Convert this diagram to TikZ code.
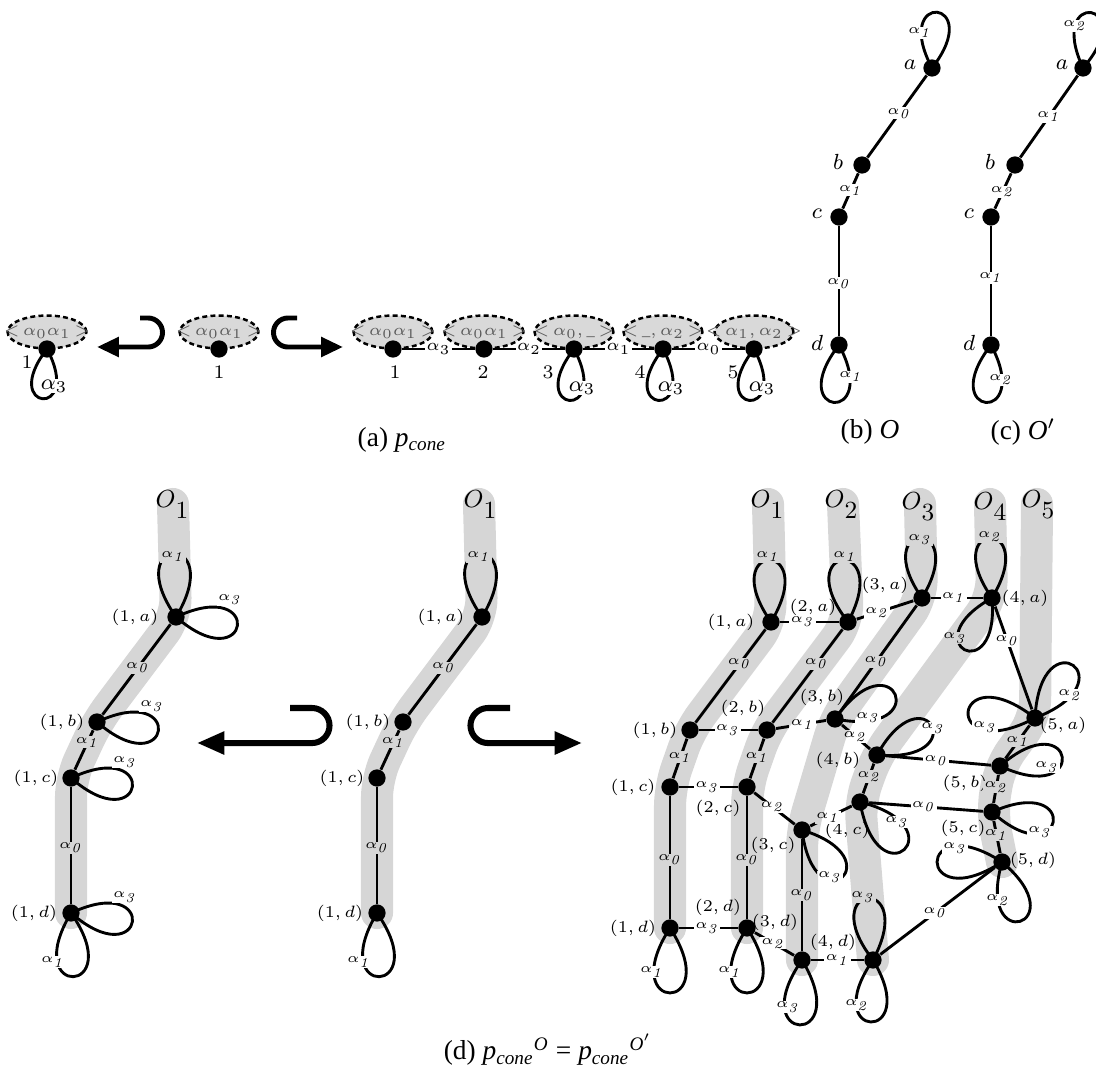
\documentclass[tikz,border=0pt]{standalone}
\usepackage[no-math]{fontspec}
\setmainfont{Liberation Serif}
\usetikzlibrary{arrows.meta,shapes.geometric}
\newcommand\myedge[5][lab]{\draw[eln] (#2) -- (#3) node[#1,pos=#4]{#5};}
\newcommand\myloop[3]{\draw[eln] (#1.center) .. controls +(#2+33:#3pt) and +(#2-33:#3pt) .. (#1.center);}
\newcommand\ai[1]{$\alpha_{\mathit{#1}}$}
\newcommand\ol[1]{$O$\raisebox{-4pt}{$#1$}}
\newcommand\orb[1]{$\mathord{<}\,#1\,\mathord{>}$}
\begin{document}
\begin{tikzpicture}[x=0.365pt,y=-0.365pt,
  eln/.style={line width=1.05pt},
  dot/.style={circle,fill=black,inner sep=0pt,minimum size=6.3pt},
  lab/.style={fill=white,inner sep=0.4pt,font=\fontsize{5}{6}\selectfont},
  alab/.style={fill=white,inner sep=0.4pt,font=\fontsize{6}{7}\selectfont},
  blab/.style={fill=white,inner sep=0.4pt,font=\fontsize{8}{9}\selectfont},
  vlab/.style={inner sep=0pt,font=\fontsize{6}{7}\selectfont},
  num/.style={inner sep=0pt,font=\fontsize{7.5}{9}\selectfont},
  letr/.style={inner sep=0pt,font=\fontsize{8.5}{10}\selectfont},
  olab/.style={inner sep=0pt,font=\fontsize{9.5}{11}\selectfont},
  band/.style={line width=11.7pt,draw=black!16,line cap=round,line join=round,rounded corners=7pt},
  ellb/.style={draw,fill=black!15,line width=0.9pt,dash pattern=on 1.8pt off 1.2pt},
  etxt/.style={inner sep=0pt,text=black!65,font=\fontsize{6}{7}\selectfont},
  hk/.style={line width=1.8pt,-{Triangle[length=8pt,width=7pt]}},
  hkb/.style={line width=2.2pt,-{Triangle[length=10pt,width=8pt]}},
  captxt/.style={inner sep=0pt,font=\fontsize{10}{12}\selectfont}]
\useasboundingbox (0,0) rectangle (1096,1075);

% ================= (a) =================
\draw[ellb] (47,332) ellipse [x radius=14.4pt,y radius=6pt];
\node[etxt] (E0) at (47,332) {\orb{\alpha_0\alpha_1}};
\node[dot] (A0) at (47,349) {};
\node[num] (nA0) at (27,362) {$1$};
\myloop{A0}{-95}{29}
\node[blab] (lA0) at (54,386) {$\alpha_3$};

\draw[ellb] (219,332) ellipse [x radius=14.4pt,y radius=6pt];
\node[etxt] (Em) at (219,332) {\orb{\alpha_0\alpha_1}};
\node[dot] (Am) at (219,349) {};
\node[num] (nAm) at (219,372) {$1$};

\coordinate (h1s) at (140,318); \coordinate (h1e) at (97,347);
\draw[hk] (h1s) -- (148,318) arc[start angle=90,end angle=-90,radius=5.3pt] -- (h1e);
\coordinate (h2s) at (297,318); \coordinate (h2e) at (343,347);
\draw[hk] (h2s) -- (288,318) arc[start angle=90,end angle=270,radius=5.3pt] -- (h2e);

\draw[ellb] (393,332) ellipse [x radius=14.4pt,y radius=6pt];
\node[etxt] (E1) at (393,332) {\orb{\alpha_0\alpha_1}};
\draw[ellb] (484,332) ellipse [x radius=14.4pt,y radius=6pt];
\node[etxt] (E2) at (484,332) {\orb{\alpha_0\alpha_1}};
\draw[ellb] (574,332) ellipse [x radius=14.4pt,y radius=6pt];
\node[etxt] (E3) at (574,332) {\orb{\alpha_0,\_}};
\draw[ellb] (663,332) ellipse [x radius=14.4pt,y radius=6pt];
\node[etxt] (E4) at (663,332) {\orb{\_,\alpha_2}};
\draw[ellb] (754,332) ellipse [x radius=14.4pt,y radius=6pt];
\node[etxt] (E5) at (754,332) {\orb{\alpha_1,\alpha_2}};

\node[dot] (A1) at (393,349) {};
\node[dot] (A2) at (484,349) {};
\node[dot] (A3) at (574,349) {};
\node[dot] (A4) at (663,349) {};
\node[dot] (A5) at (754,349) {};
\node[num] (nA1) at (395,372) {$1$};
\node[num] (nA2) at (483,372) {$2$};
\node[num] (nA3) at (548,372) {$3$};
\node[num] (nA4) at (640,372) {$4$};
\node[num] (nA5) at (733,372) {$5$};
\myedge[alab]{A1}{A2}{.5}{$\alpha_3$}
\myedge[alab]{A2}{A3}{.5}{$\alpha_2$}
\myedge[alab]{A3}{A4}{.5}{$\alpha_1$}
\myedge[alab]{A4}{A5}{.5}{$\alpha_0$}
\myloop{A3}{-95}{30}
\node[blab] (lA3) at (582,388) {$\alpha_3$};
\myloop{A4}{-95}{30}
\node[blab] (lA4) at (671,388) {$\alpha_3$};
\myloop{A5}{-95}{30}
\node[blab] (lA5) at (762,388) {$\alpha_3$};

\node[captxt] (capa) at (402,440) {(a) \textit{p}\textsubscript{\textit{cone}}};

% ================= (b) =================
\node[dot] (Ba) at (932,68) {};
\node[dot] (Bb) at (862,165) {};
\node[dot] (Bc) at (839,217) {};
\node[dot] (Bd) at (839,345) {};
\node[letr] (tBa) at (910,65) {$a$};
\node[letr] (tBb) at (838,162) {$b$};
\node[letr] (tBc) at (817,214) {$c$};
\node[letr] (tBd) at (817,343) {$d$};
\myedge{Ba}{Bb}{.46}{\ai{0}}
\myedge{Bb}{Bc}{.48}{\ai{1}}
\myedge{Bc}{Bd}{.52}{\ai{0}}
\myloop{Ba}{85}{32.5}
\node[lab] (lBa) at (920,33) {\ai{1}};
\myloop{Bd}{-95}{33.5}
\node[lab] (lBd) at (851,377) {\ai{1}};
\node[captxt] (capb) at (870,432) {(b) \textit{O}};

% ================= (c) =================
\node[dot] (Ca) at (1083,68) {};
\node[dot] (Cb) at (1015,165) {};
\node[dot] (Cc) at (991,217) {};
\node[dot] (Cd) at (991,345) {};
\node[letr] (tCa) at (1062,65) {$a$};
\node[letr] (tCb) at (990,162) {$b$};
\node[letr] (tCc) at (969,214) {$c$};
\node[letr] (tCd) at (969,343) {$d$};
\myedge{Ca}{Cb}{.5}{\ai{1}}
\myedge{Cb}{Cc}{.52}{\ai{2}}
\myedge{Cc}{Cd}{.47}{\ai{1}}
\myloop{Ca}{82}{32.5}
\node[lab] (lCa) at (1075,26) {\ai{2}};
\myloop{Cd}{-95}{33.5}
\node[lab] (lCd) at (1001,380) {\ai{2}};
\node[captxt] (capc) at (1023,432) {(c) \textit{O}$'$};

% ================= (d) left =================
\node[dot] (L1a) at (176,617) {};
\node[dot] (L1b) at (97,722) {};
\node[dot] (L1c) at (71,778) {};
\node[dot] (L1d) at (71,913) {};
\node[vlab] (tL1a) at (135,617) {$(1,a)$};
\node[vlab] (tL1b) at (62,722) {$(1,b)$};
\node[vlab] (tL1c) at (36,778) {$(1,c)$};
\node[vlab] (tL1d) at (34,913) {$(1,d)$};
\myedge{L1a}{L1b}{.48}{\ai{0}}
\myedge{L1b}{L1c}{.3}{\ai{1}}
\myedge{L1c}{L1d}{.52}{\ai{0}}
\myloop{L1a}{92}{37}
\node[lab] (lL1a) at (173,557) {\ai{1}};
\myloop{L1a}{-8}{36}
\node[lab] (lL1a3) at (230,600) {\ai{3}};
\myloop{L1b}{-8}{36}
\node[lab] (lL1b3) at (152,706) {\ai{3}};
\myloop{L1c}{-8}{36}
\node[lab] (lL1c3) at (125,762) {\ai{3}};
\myloop{L1d}{-8}{36}
\node[lab] (lL1d3) at (125,897) {\ai{3}};
\myloop{L1d}{-88}{37}
\node[lab] (lL1d) at (53,962) {\ai{1}};

% arrows
\coordinate (h3s) at (290,708); \coordinate (h3e) at (197,743);
\draw[hkb] (h3s) -- (312,708) arc[start angle=90,end angle=-90,radius=6.4pt] -- (h3e);
\coordinate (h4s) at (510,708); \coordinate (h4e) at (582,743);
\draw[hkb] (h4s) -- (488,708) arc[start angle=90,end angle=270,radius=6.4pt] -- (h4e);

% ================= (d) middle =================
\node[dot] (M1a) at (482,617) {};
\node[dot] (M1b) at (403,722) {};
\node[dot] (M1c) at (377,778) {};
\node[dot] (M1d) at (377,913) {};
\node[vlab] (tM1a) at (441,617) {$(1,a)$};
\node[vlab] (tM1b) at (368,722) {$(1,b)$};
\node[vlab] (tM1c) at (342,778) {$(1,c)$};
\node[vlab] (tM1d) at (340,913) {$(1,d)$};
\myedge{M1a}{M1b}{.48}{\ai{0}}
\myedge{M1b}{M1c}{.3}{\ai{1}}
\myedge{M1c}{M1d}{.52}{\ai{0}}
\myloop{M1a}{92}{37}
\node[lab] (lM1a) at (479,557) {\ai{1}};
\myloop{M1d}{-88}{37}
\node[lab] (lM1d) at (359,962) {\ai{1}};

% ================= (d) right =================
\node[dot] (R1a) at (771,622) {};
\node[dot] (R1b) at (690,730) {};
\node[dot] (R1c) at (670,787) {};
\node[dot] (R1d) at (670,928) {};
\node[dot] (R2a) at (848,622) {};
\node[dot] (R2b) at (767,730) {};
\node[dot] (R2c) at (747,787) {};
\node[dot] (R2d) at (747,928) {};
\node[dot] (R3a) at (922,598) {};
\node[dot] (R3b) at (835,719) {};
\node[dot] (R3c) at (802,830) {};
\node[dot] (R3d) at (802,960) {};
\node[dot] (R4a) at (992,598) {};
\node[dot] (R4b) at (877,755) {};
\node[dot] (R4c) at (860,802) {};
\node[dot] (R4d) at (873,960) {};
\node[dot] (R5a) at (1035,718) {};
\node[dot] (R5b) at (1000,766) {};
\node[dot] (R5c) at (992,812) {};
\node[dot] (R5d) at (1002,862) {};

\node[vlab] (tR1a) at (731,622) {$(1,a)$};
\node[vlab] (tR1b) at (655,730) {$(1,b)$};
\node[vlab] (tR1c) at (633,787) {$(1,c)$};
\node[vlab] (tR1d) at (633,928) {$(1,d)$};
\node[vlab] (tR2a) at (813,607) {$(2,a)$};
\node[vlab] (tR2b) at (743,708) {$(2,b)$};
\node[vlab] (tR2c) at (718,808) {$(2,c)$};
\node[vlab] (tR2d) at (718,907) {$(2,d)$};
\node[vlab] (tR3a) at (885,585) {$(3,a)$};
\node[vlab] (tR3b) at (822,697) {$(3,b)$};
\node[vlab] (tR3c) at (773,845) {$(3,c)$};
\node[vlab] (tR3d) at (775,922) {$(3,d)$};
\node[vlab] (tR4a) at (1025,598) {$(4,a)$};
\node[vlab] (tR4b) at (838,760) {$(4,b)$};
\node[vlab] (tR4c) at (847,830) {$(4,c)$};
\node[vlab] (tR4d) at (833,942) {$(4,d)$};
\node[vlab] (tR5a) at (1063,725) {$(5,a)$};
\node[vlab] (tR5b) at (965,783) {$(5,b)$};
\node[vlab] (tR5c) at (963,828) {$(5,c)$};
\node[vlab] (tR5d) at (1033,860) {$(5,d)$};

\myedge{R1a}{R2a}{.38}{\ai{3}}
\myedge{R1a}{R1b}{.37}{\ai{0}}
\myedge{R2a}{R2b}{.37}{\ai{0}}
\myedge{R2a}{R3a}{.36}{\ai{2}}
\myedge{R3a}{R4a}{.44}{\ai{1}}
\myedge{R3a}{R3b}{.53}{\ai{0}}
\myedge{R4a}{R5a}{.33}{\ai{0}}
\myedge{R1b}{R2b}{.49}{\ai{3}}
\myedge{R2b}{R3b}{.53}{\ai{1}}
\myedge{R3b}{R4b}{.48}{\ai{2}}
\myedge{R4b}{R5b}{.48}{\ai{0}}
\myedge{R4b}{R4c}{.43}{\ai{2}}
\myedge{R5a}{R5b}{.48}{\ai{1}}
\myedge{R1b}{R1c}{.47}{\ai{1}}
\myedge{R2b}{R2c}{.47}{\ai{1}}
\myedge{R1c}{R2c}{.48}{\ai{3}}
\myedge{R2c}{R3c}{.45}{\ai{2}}
\myedge{R3c}{R4c}{.43}{\ai{1}}
\myedge{R4c}{R5c}{.48}{\ai{0}}
\myedge{R5b}{R5c}{.43}{\ai{2}}
\myedge{R5c}{R5d}{.44}{\ai{1}}
\myedge{R1c}{R1d}{.52}{\ai{0}}
\myedge{R2c}{R2d}{.52}{\ai{0}}
\myedge{R3c}{R3d}{.5}{\ai{0}}
\myedge{R1d}{R2d}{.48}{\ai{3}}
\myedge{R2d}{R3d}{.47}{\ai{2}}
\myedge{R3d}{R4d}{.5}{\ai{1}}
\myedge{R4d}{R5d}{.48}{\ai{0}}

\myloop{R1a}{92}{36}
\node[lab] (lR1a) at (768,557) {\ai{1}};
\myloop{R2a}{95}{36}
\node[lab] (lR2a) at (845,557) {\ai{1}};
\myloop{R3a}{92}{35}
\node[lab] (lR3a) at (920,540) {\ai{3}};
\myloop{R4a}{92}{35}
\node[lab] (lR4a) at (990,537) {\ai{2}};
\myloop{R4a}{-118}{34}
\node[lab] (lR4a3) at (955,638) {\ai{3}};
\myloop{R5a}{54}{37.7}
\node[lab] (lR5a2) at (1070,695) {\ai{2}};
\myloop{R5a}{175}{39}
\node[lab] (lR5a3) at (985,727) {\ai{3}};
\myloop{R5b}{8}{36.5}
\node[lab] (lR5b) at (1047,767) {\ai{3}};
\myloop{R5c}{-9}{36}
\node[lab] (lR5c) at (1040,832) {\ai{3}};
\myloop{R5d}{180}{37.7}
\node[lab] (lR5d3) at (955,848) {\ai{3}};
\myloop{R5d}{-73}{36}
\node[lab] (lR5d2) at (998,900) {\ai{2}};
\myloop{R4d}{95}{36}
\node[lab] (lR4d3) at (863,897) {\ai{3}};
\myloop{R4d}{-92}{36}
\node[lab] (lR4d2) at (857,1005) {\ai{2}};
\myloop{R4c}{-47}{37.7}
\node[lab] (lR4c) at (897,822) {\ai{3}};
\myloop{R4b}{28}{36}
\node[lab] (lR4b) at (933,728) {\ai{3}};
\myloop{R3b}{22}{37.7}
\node[lab] (lR3b) at (868,718) {\ai{3}};
\myloop{R3c}{-50}{36}
\node[lab] (lR3c) at (830,877) {\ai{3}};
\myloop{R3d}{-92}{37.7}
\node[lab] (lR3d) at (788,1007) {\ai{3}};
\myloop{R1d}{-90}{37.7}
\node[lab] (lR1d) at (652,972) {\ai{1}};
\myloop{R2d}{-90}{37.7}
\node[lab] (lR2d) at (730,972) {\ai{1}};

% ================= bands (multiply) =================
\coordinate (bL) at (173,504);
\coordinate (bM) at (479,504);
\coordinate (bR1) at (768,504);
\coordinate (bR2) at (843,504);
\coordinate (bR3) at (920,504);
\coordinate (bR4) at (990,504);
\coordinate (bR5) at (1037,504);
\begin{scope}[blend mode=multiply]
\draw[band] (bL) -- (L1a.center) -- (L1b.center) -- (L1c.center) -- (L1d.center);
\draw[band] (bM) -- (M1a.center) -- (M1b.center) -- (M1c.center) -- (M1d.center);
\draw[band] (bR1) -- (R1a.center) -- (R1b.center) -- (R1c.center) -- (R1d.center);
\draw[band] (bR2) -- (R2a.center) -- (R2b.center) -- (R2c.center) -- (R2d.center);
\draw[band] (bR3) -- (R3a.center) -- (R3b.center) -- (R3c.center) -- (R3d.center);
\draw[band] (bR4) -- (R4a.center) -- (R4b.center) -- (R4c.center) -- (R4d.center);
\draw[band] (bR5) -- (R5a.center) -- (R5b.center) -- (R5c.center) -- (R5d.center);
\end{scope}

\node[olab] (oL) at (172,505) {\ol{1}};
\node[olab] (oM) at (480,505) {\ol{1}};
\node[olab] (oR1) at (767,505) {\ol{1}};
\node[olab] (oR2) at (841,505) {\ol{2}};
\node[olab] (oR3) at (918,507) {\ol{3}};
\node[olab] (oR4) at (990,507) {\ol{4}};
\node[olab] (oR5) at (1038,505) {\ol{5}};

\node[captxt] (capd) at (548,1050) {(d) \textit{p}\textsubscript{\textit{cone}}\textsuperscript{\textit{O}} = \textit{p}\textsubscript{\textit{cone}}\textsuperscript{\textit{O}$'$}};
\end{tikzpicture}
\end{document}
